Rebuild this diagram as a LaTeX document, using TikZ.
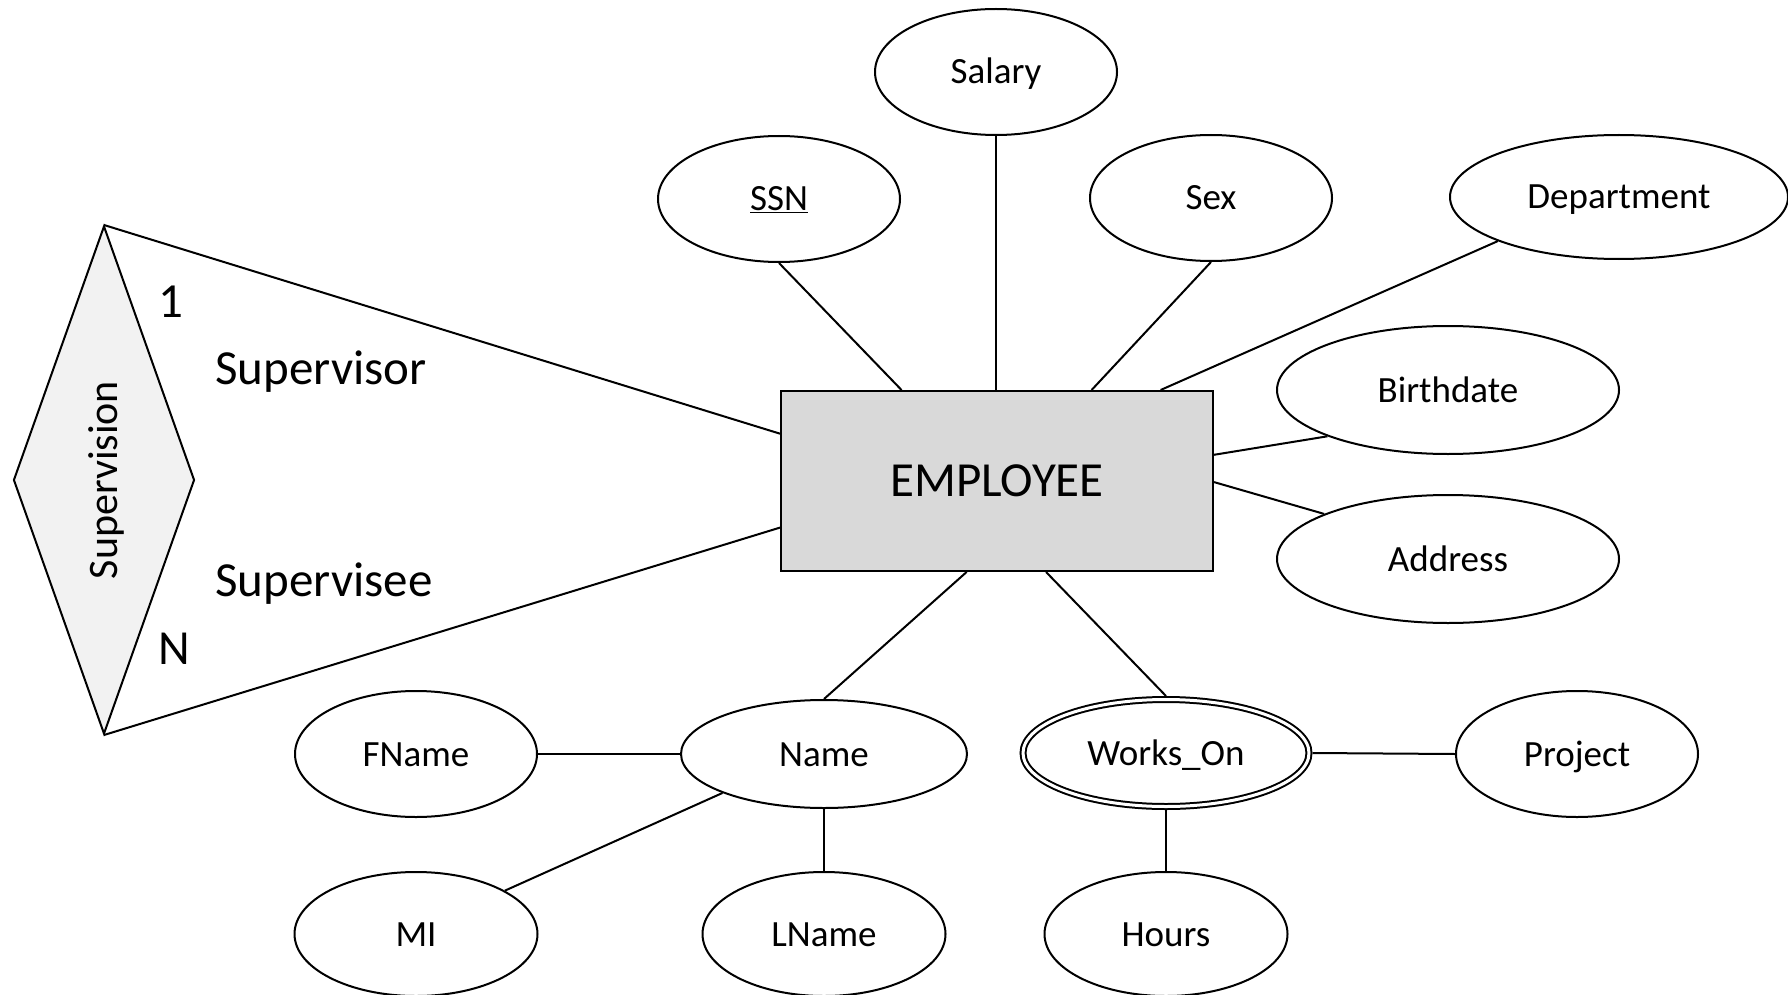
\documentclass[tikz,border=0pt]{standalone}
\usepackage{fontspec}
\setmainfont{Carlito}
\usetikzlibrary{shapes.geometric,calc}
\definecolor{empfill}{HTML}{D9D9D9}
\definecolor{supfill}{HTML}{F2F2F2}
\begin{document}
\begin{tikzpicture}[x=1pt,y=-1pt,
  every node/.style={inner sep=0pt},
  attr/.style={ellipse,draw,line width=2pt,minimum width=242pt,minimum height=126pt,
    font=\fontsize{37}{44}\selectfont,text height=24pt,text depth=0pt},
  conn/.style={line width=2pt},
  lbl/.style={font=\fontsize{49}{58}\selectfont,text height=31.5pt,text depth=0pt}]
\useasboundingbox (0,0) rectangle (1788,995);
% entity
\node[draw,line width=2pt,fill=empfill,minimum width=432pt,minimum height=180pt,
  font=\fontsize{49}{58}\selectfont,text height=31.5pt,text depth=0pt] (emp) at (997,481) {EMPLOYEE};
% relationship
\node[diamond,draw,line width=2pt,fill=supfill,minimum width=181pt,minimum height=508pt] (sup) at (104,480) {};
\node[rotate=90,font=\fontsize{42}{50}\selectfont,text height=27pt,text depth=0pt] (suptxt) at (sup.center) {Supervision};
% role labels
\node[lbl] (one) at (171,302) {1};
\node[lbl] (svr) at (321,369) {Supervisor};
\node[lbl] (sve) at (324,581) {Supervisee};
\node[lbl] (nn) at (174,649) {N};
% attributes
\node[attr] (salary) at (996,72) {Salary};
\node[attr] (ssn) at (779,199) {\underline{SSN}};
\node[attr] (sex) at (1211,198) {Sex};
\node[attr,minimum width=338pt,minimum height=124pt] (dept) at (1619,197) {Department};
\node[attr,minimum width=342pt,minimum height=128pt] (birth) at (1448,390) {Birthdate};
\node[attr,minimum width=342pt,minimum height=128pt] (addr) at (1448,559) {Address};
\node[attr,minimum width=286pt,minimum height=108pt] (name) at (824,754) {Name};
\node[attr] (fname) at (416,754) {FName};
\node[attr,minimum width=243pt,minimum height=124pt] (mi) at (416,934) {MI};
\node[attr,minimum width=243pt,minimum height=124pt] (lname) at (824,934) {LName};
\node[attr,double,double distance=3pt,outer sep=3.5pt,minimum width=286pt,minimum height=107pt] (works) at (1166,753) {Works\_On};
\node[attr] (project) at (1577,754) {Project};
\node[attr,minimum width=243pt,minimum height=124pt] (hours) at (1166,934) {Hours};
% connectors
\draw[conn] (sup.north) -- ($(emp.north west)!0.24!(emp.south west)$);
\draw[conn] (sup.south) -- ($(emp.north west)!0.756!(emp.south west)$);
\draw[conn] (ssn.south) -- ($(emp.north west)!0.28!(emp.north east)$);
\draw[conn] (salary.south) -- (salary.south |- emp.north);
\draw[conn] (sex.south) -- ($(emp.north west)!0.718!(emp.north east)$);
\draw[conn] (dept.200) -- ($(emp.north west)!0.877!(emp.north east)$);
\draw[conn] (birth.201) -- ($(emp.north east)!0.356!(emp.south east)$);
\draw[conn] (addr.160) -- ($(emp.north east)!0.506!(emp.south east)$);
\draw[conn] ($(emp.south west)!0.43!(emp.south east)$) -- (name.north);
\draw[conn] ($(emp.south west)!0.613!(emp.south east)$) -- (works.north);
\draw[conn] (fname.east) -- (name.west);
\draw[conn] (name.201) -- (mi.26);
\draw[conn] (name.south) -- (lname.north);
\draw[conn] (works.east) -- (project.west);
\draw[conn] (works.south) -- (hours.north);
\end{tikzpicture}
\end{document}
